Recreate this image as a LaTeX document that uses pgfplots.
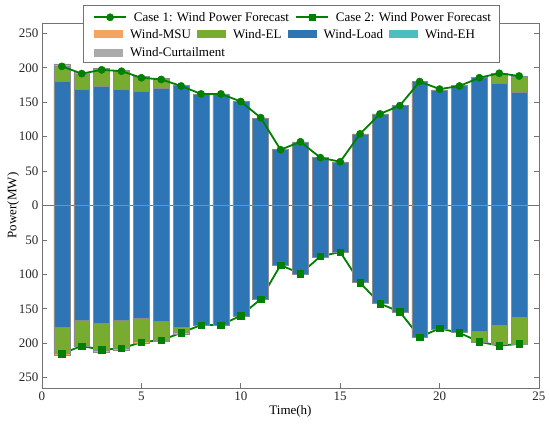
\documentclass[border=0pt]{standalone}
\usepackage{fontspec}
\setmainfont{Liberation Serif}
\usepackage{pgfplots}
\pgfplotsset{compat=1.18}
\usepackage{pgfplotstable}

\definecolor{cLoad}{RGB}{46,117,182}
\definecolor{cEL}{RGB}{119,172,48}
\definecolor{cMSU}{RGB}{244,164,96}
\definecolor{cEH}{RGB}{75,190,190}
\definecolor{cCur}{RGB}{170,170,170}
\definecolor{cLine}{RGB}{0,128,0}

\pgfplotstableread{
t load el msu f
1 180 22 3.5 202
2 169 22 2 191.5
3 173.5 24 1.5 197
4 169 26 2 195
5 166 20 1.5 185.5
6 170.5 12.5 2 183
7 174 0 0 173.5
8 162 0 0 162
9 162 0 0 162
10 151 0 0 151
11 127 0 0 127.5
12 81 0 0 81
13 92.5 0 0 92.5
14 69.5 0 0 69.5
15 63.5 0 0 63.5
16 104 0 0 104
17 133 0 0 133
18 145 0 0 145
19 180 0 0 180
20 168 0 0 169
21 174 0 0 173.5
22 185.5 0 0 185.5
23 177 15 0 192
24 165 23 0 188
}\pos

\pgfplotstableread{
t load el msu f
1 -176.5 -38.5 -3 -215
2 -166 -37 -2 -204
3 -170.5 -39 -3 -209.5
4 -166 -41.5 -2.5 -207.5
5 -163.5 -33.5 -3 -198.5
6 -168 -27 -2.5 -195.5
7 -177 -7.5 -2 -185
8 -173.5 0 0 -173.5
9 -173.5 0 0 -173.5
10 -161 0 0 -160
11 -136 0 0 -136
12 -87 0 0 -86.5
13 -99.5 0 0 -99
14 -75 0 0 -74
15 -68 0 0 -67.5
16 -111.5 0 0 -112
17 -142 0 0 -142.5
18 -154.5 0 0 -154.5
19 -191.5 0 0 -191
20 -179 0 0 -178.5
21 -184.5 0 0 -185
22 -183 -15.5 0 -198
23 -174 -27.5 0 -203.5
24 -162 -39 0 -201
}\neg

\pgfplotsset{
  baseaxis/.style={at={(0pt,0pt)}, anchor=south west, scale only axis,
    width=497pt, height=365pt},
  legaxis/.style={baseaxis, hide axis, clip=false,
    xmin=0, xmax=1, ymin=0, ymax=1,
    legend cell align=left,
    legend style={draw=none, fill=none, inner sep=0pt, anchor=west,
      font=\fontsize{13}{15}\selectfont,
      nodes={inner xsep=3pt, inner ysep=1pt},
      /tikz/every odd column/.append style={column sep=4pt},
      /tikz/every even column/.append style={column sep=3pt}}},
  linelegend/.style={legend image code/.code={%
      \draw[mark repeat=2, mark phase=2, ##1] plot coordinates {(0pt,0pt) (16pt,0pt) (32pt,0pt)};}},
  arealegend/.style={legend image code/.code={%
      \fill[##1, draw=none] (0pt,-4pt) rectangle (29pt,4pt);}},
  barsty/.style={draw=black!45, line width=0.5pt},
  l1/.style={cLine, line width=1.8pt, mark=*, mark size=3.6pt, mark options={solid, line width=0.5pt}},
  l2/.style={cLine, line width=1.8pt, mark=square*, mark size=3.2pt, mark options={solid, line width=0.5pt}},
}

\begin{document}
\begin{tikzpicture}[font=\fontsize{13}{15}\selectfont]
\useasboundingbox (-42pt,-37pt) rectangle (508pt,388pt);
\begin{axis}[baseaxis,
  xmin=0, xmax=25, ymin=-265, ymax=265,
  xtick={0,5,...,25},
  ytick={-250,-200,...,250},
  yticklabels={250,200,150,100,50,0,50,100,150,200,250},
  tick align=inside, major tick length=5pt,
  axis line style={black!55, line width=0.7pt}, tick style={black!55, line width=0.7pt},
  ticklabel style={black!85},
  /pgf/number format/assume math mode=true,
  xlabel={Time(h)}, ylabel={Power(MW)},
  xlabel style={at={(axis description cs:0.5,-0.065)}, anchor=center},
  ylabel style={at={(axis description cs:-0.058,0.5)}, anchor=center},
  ybar stacked, bar width=0.8,
]
\addplot[fill=cLoad, barsty] table[x=t,y=load]{\pos};
\addplot[fill=cEL, barsty] table[x=t,y=el]{\pos};
\addplot[fill=cMSU, barsty] table[x=t,y=msu]{\pos};
\end{axis}

\begin{axis}[baseaxis, hide axis,
  xmin=0, xmax=25, ymin=-265, ymax=265,
  ybar stacked, bar width=0.8,
]
\addplot[fill=cLoad, barsty] table[x=t,y=load]{\neg};
\addplot[fill=cEL, barsty] table[x=t,y=el]{\neg};
\addplot[fill=cMSU, barsty] table[x=t,y=msu]{\neg};
\addplot[black!55, line width=0.7pt, sharp plot, stack plots=false] coordinates {(0,0) (25,0)};
\addplot[l1, sharp plot, stack plots=false] table[x=t,y=f]{\pos};
\addplot[l2, sharp plot, stack plots=false] table[x=t,y=f]{\neg};
\end{axis}

\begin{axis}[legaxis, legend columns=2,
  legend style={at={(rel axis cs:0.1026,1.0156)}}]
\draw[black!55, fill=white, line width=0.7pt] (rel axis cs:0.0829,0.892) rectangle (rel axis cs:0.9195,1.049);
\addlegendimage{linelegend, l1}
\addlegendentry{Case 1: Wind Power Forecast}
\addlegendimage{linelegend, l2}
\addlegendentry{Case 2: Wind Power Forecast}
\end{axis}

\begin{axis}[legaxis, legend columns=4,
  legend style={at={(rel axis cs:0.1046,0.969)}}]
\addlegendimage{arealegend, fill=cMSU}
\addlegendentry{Wind-MSU}
\addlegendimage{arealegend, fill=cEL}
\addlegendentry{Wind-EL}
\addlegendimage{arealegend, fill=cLoad}
\addlegendentry{Wind-Load}
\addlegendimage{arealegend, fill=cEH}
\addlegendentry{Wind-EH}
\end{axis}

\begin{axis}[legaxis, legend columns=1,
  legend style={at={(rel axis cs:0.1046,0.9186)}}]
\addlegendimage{arealegend, fill=cCur}
\addlegendentry{Wind-Curtailment}
\end{axis}
\end{tikzpicture}
\end{document}
